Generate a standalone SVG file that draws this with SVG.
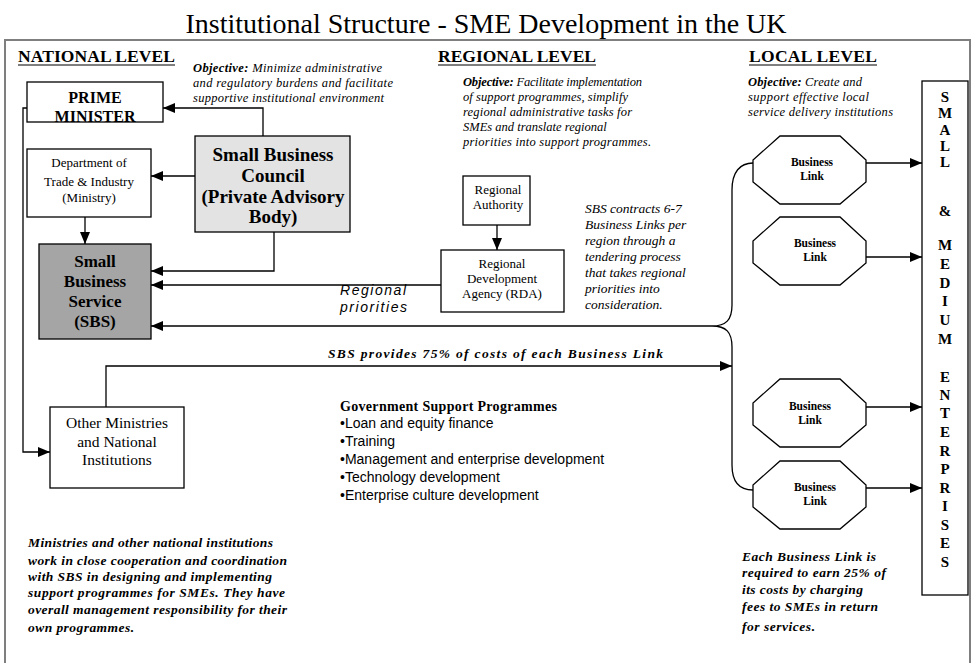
<svg xmlns="http://www.w3.org/2000/svg" width="972" height="663" viewBox="0 0 972 663">
<defs>
<marker id="ah" viewBox="0 0 12 10" refX="12" refY="5" markerWidth="12" markerHeight="10" markerUnits="userSpaceOnUse" orient="auto">
<path d="M0,0 L12,5 L0,10 Z" fill="#000"/>
</marker>
</defs>
<style>
.serif{font-family:"Liberation Serif","Times New Roman",serif;fill:#000}
.sans{font-family:"Liberation Sans",Arial,sans-serif;fill:#000}
.b{font-weight:bold}
.i{font-style:italic}
.box{fill:#fff;stroke:#000;stroke-width:1.3}
.con{fill:none;stroke:#000;stroke-width:1.3}
.arr{fill:none;stroke:#000;stroke-width:1.3;marker-end:url(#ah)}
.c{text-anchor:middle}
</style>
<rect width="972" height="663" fill="#fff"/>
<text class="serif c" x="486" y="33" font-size="28">Institutional Structure - SME Development in the UK</text>
<path d="M5,680 L5,40 L970,40 L970,680" fill="none" stroke="#7f7f7f" stroke-width="2"/>

<g id="headings" class="serif b" font-size="17.5">
<text x="18" y="62" textLength="157">NATIONAL LEVEL</text>
<line x1="18" y1="65" x2="175" y2="65" stroke="#000" stroke-width="1.2"/>
<text x="438" y="62" textLength="158">REGIONAL LEVEL</text>
<line x1="438" y1="65" x2="596" y2="65" stroke="#000" stroke-width="1.2"/>
<text x="749" y="62" textLength="128">LOCAL LEVEL</text>
<line x1="749" y1="65" x2="877" y2="65" stroke="#000" stroke-width="1.2"/>
</g>

<g id="objectives" class="serif i" font-size="12.5">
<text x="193" y="72" textLength="189"><tspan font-weight="bold">Objective:</tspan> Minimize administrative</text>
<text x="193" y="87" textLength="200">and regulatory burdens and facilitate</text>
<text x="193" y="102" textLength="191">supportive institutional environment</text>
<text x="463" y="86" textLength="179"><tspan font-weight="bold">Objective:</tspan> Facilitate implementation</text>
<text x="463" y="101" textLength="165">of support programmes, simplify</text>
<text x="463" y="116" textLength="169">regional administrative tasks for</text>
<text x="463" y="131">SMEs and translate regional</text>
<text x="463" y="146" textLength="188">priorities into support programmes.</text>
<text x="748" y="86" textLength="114"><tspan font-weight="bold">Objective:</tspan> Create and</text>
<text x="748" y="101" textLength="121">support effective local</text>
<text x="748" y="116" textLength="145">service delivery institutions</text>
</g>

<g id="connectors">
<path class="arr" d="M263,136 L263,108 L163,108"/>
<path class="arr" d="M32,108 L23,108 L23,452 L50,452"/>
<path class="arr" d="M195,176 L151,176"/>
<path class="arr" d="M85,217 L85,244"/>
<path class="arr" d="M274,232 L274,271 L151,271"/>
<path class="arr" d="M441,285 L151,285"/>
<path class="arr" d="M712,326 L151,326"/>
<path class="arr" d="M106,407 L106,366 L732,366"/>
<path class="arr" d="M497,225 L497,250"/>
<path class="con" d="M753,163 C740,163 732,172 732,190 L732,305 C732,320 726,326 712,326 C726,326 732,332 732,347 L732,465 C732,482 740,490 753,490"/>
<path class="arr" d="M866,163 L922,163"/>
<path class="arr" d="M866,257 L922,257"/>
<path class="arr" d="M866,407 L922,407"/>
<path class="arr" d="M866,488 L922,488"/>
</g>

<g id="prime-minister">
<rect class="box" x="27" y="82" width="136" height="40"/>
<text class="serif b c" x="95" y="103" font-size="16">PRIME</text>
<text class="serif b c" x="95" y="122" font-size="16">MINISTER</text>
</g>

<g id="dti">
<rect class="box" x="27" y="149" width="124" height="68"/>
<text class="serif c" x="89" y="167" font-size="13">Department of</text>
<text class="serif c" x="89" y="186" font-size="13">Trade &amp; Industry</text>
<text class="serif c" x="89" y="202" font-size="13">(Ministry)</text>
</g>

<g id="small-business-council">
<rect class="box" x="195" y="136" width="155" height="96" style="fill:#e3e3e3"/>
<text class="serif b c" x="273" y="161" font-size="19">Small Business</text>
<text class="serif b c" x="273" y="182" font-size="19">Council</text>
<text class="serif b c" x="273" y="203" font-size="19">(Private Advisory</text>
<text class="serif b c" x="273" y="223" font-size="19">Body)</text>
</g>

<g id="small-business-service">
<rect class="box" x="39" y="244" width="112" height="95" style="fill:#a5a5a5"/>
<text class="serif b c" x="95" y="267" font-size="17">Small</text>
<text class="serif b c" x="95" y="287" font-size="17">Business</text>
<text class="serif b c" x="95" y="307" font-size="17">Service</text>
<text class="serif b c" x="95" y="327" font-size="17">(SBS)</text>
</g>

<g id="other-ministries">
<rect class="box" x="50" y="407" width="134" height="81"/>
<text class="serif c" x="117" y="428" font-size="15.5">Other Ministries</text>
<text class="serif c" x="117" y="447" font-size="15.5">and National</text>
<text class="serif c" x="117" y="465" font-size="15.5">Institutions</text>
</g>

<g id="regional-authority">
<rect class="box" x="463" y="176" width="67" height="49"/>
<text class="serif c" x="498" y="194" font-size="13">Regional</text>
<text class="serif c" x="498" y="209" font-size="13">Authority</text>
</g>

<g id="rda">
<rect class="box" x="441" y="250" width="123" height="62"/>
<text class="serif c" x="502" y="268" font-size="13">Regional</text>
<text class="serif c" x="502" y="283" font-size="13">Development</text>
<text class="serif c" x="502" y="298" font-size="13">Agency (RDA)</text>
</g>

<g id="labels">
<text class="sans i" x="340" y="295" font-size="14" textLength="66">Regional</text>
<text class="sans i" x="340" y="312" font-size="14" textLength="67">priorities</text>
<text class="serif b i" x="328" y="358" font-size="13.5" textLength="335">SBS provides 75% of costs of each Business Link</text>
<g class="serif i" font-size="13.5">
<text x="585" y="213">SBS contracts 6-7</text>
<text x="585" y="229">Business Links per</text>
<text x="585" y="245">region through a</text>
<text x="585" y="261">tendering process</text>
<text x="585" y="277">that takes regional</text>
<text x="585" y="293">priorities into</text>
<text x="585" y="309">consideration.</text>
</g>
</g>

<g id="government-support-programmes">
<text class="serif b" x="340" y="411" font-size="14" textLength="217">Government Support Programmes</text>
<g class="sans" font-size="14">
<text x="340" y="428">•Loan and equity finance</text>
<text x="340" y="446">•Training</text>
<text x="340" y="464">•Management and enterprise development</text>
<text x="340" y="482">•Technology development</text>
<text x="340" y="500">•Enterprise culture development</text>
</g>
</g>

<g id="business-link-1">
<polygon class="box" points="780,136 840,136 866,160 866,182 840,204 780,204 753,182 753,160"/>
<text class="serif b c" x="812" y="166" font-size="11.5">Business</text>
<text class="serif b c" x="812" y="180" font-size="11.5">Link</text>
</g>
<g id="business-link-2">
<polygon class="box" points="780,217 840,217 866,241 866,263 840,285 780,285 753,263 753,241"/>
<text class="serif b c" x="815" y="247" font-size="11.5">Business</text>
<text class="serif b c" x="815" y="261" font-size="11.5">Link</text>
</g>
<g id="business-link-3">
<polygon class="box" points="780,379 840,379 866,403 866,425 840,447 780,447 753,425 753,403"/>
<text class="serif b c" x="810" y="410" font-size="11.5">Business</text>
<text class="serif b c" x="810" y="424" font-size="11.5">Link</text>
</g>
<g id="business-link-4">
<polygon class="box" points="780,461 840,461 866,485 866,507 840,529 780,529 753,507 753,485"/>
<text class="serif b c" x="815" y="491" font-size="11.5">Business</text>
<text class="serif b c" x="815" y="505" font-size="11.5">Link</text>
</g>

<g id="sme">
<rect class="box" x="922" y="81" width="46" height="514"/>
<g class="serif b c" font-size="15">
<text x="945" y="102">S</text>
<text x="945" y="118">M</text>
<text x="945" y="135">A</text>
<text x="945" y="151">L</text>
<text x="945" y="167">L</text>
<text x="945" y="216">&amp;</text>
<text x="945" y="250">M</text>
<text x="945" y="269">E</text>
<text x="945" y="288">D</text>
<text x="945" y="306">I</text>
<text x="945" y="325">U</text>
<text x="945" y="344">M</text>
<text x="945" y="382">E</text>
<text x="945" y="400">N</text>
<text x="945" y="418">T</text>
<text x="945" y="437">E</text>
<text x="945" y="456">R</text>
<text x="945" y="474">P</text>
<text x="945" y="493">R</text>
<text x="945" y="511">I</text>
<text x="945" y="530">S</text>
<text x="945" y="548">E</text>
<text x="945" y="567">S</text>
</g>
</g>

<g id="notes" class="serif b i" font-size="13.5">
<text x="28" y="547" textLength="245">Ministries and other national institutions</text>
<text x="28" y="565" textLength="259">work in close cooperation and coordination</text>
<text x="28" y="581" textLength="244">with SBS in designing and implementing</text>
<text x="28" y="597" textLength="257">support programmes for SMEs.  They have</text>
<text x="28" y="614" textLength="259">overall management responsibility for their</text>
<text x="28" y="632" textLength="106">own programmes.</text>
<text x="742" y="561" textLength="134">Each Business Link is</text>
<text x="742" y="577" textLength="144">required to earn 25% of</text>
<text x="742" y="594" textLength="121">its costs by charging</text>
<text x="742" y="611" textLength="136">fees to SMEs in return</text>
<text x="742" y="631" textLength="73">for services.</text>
</g>
</svg>
